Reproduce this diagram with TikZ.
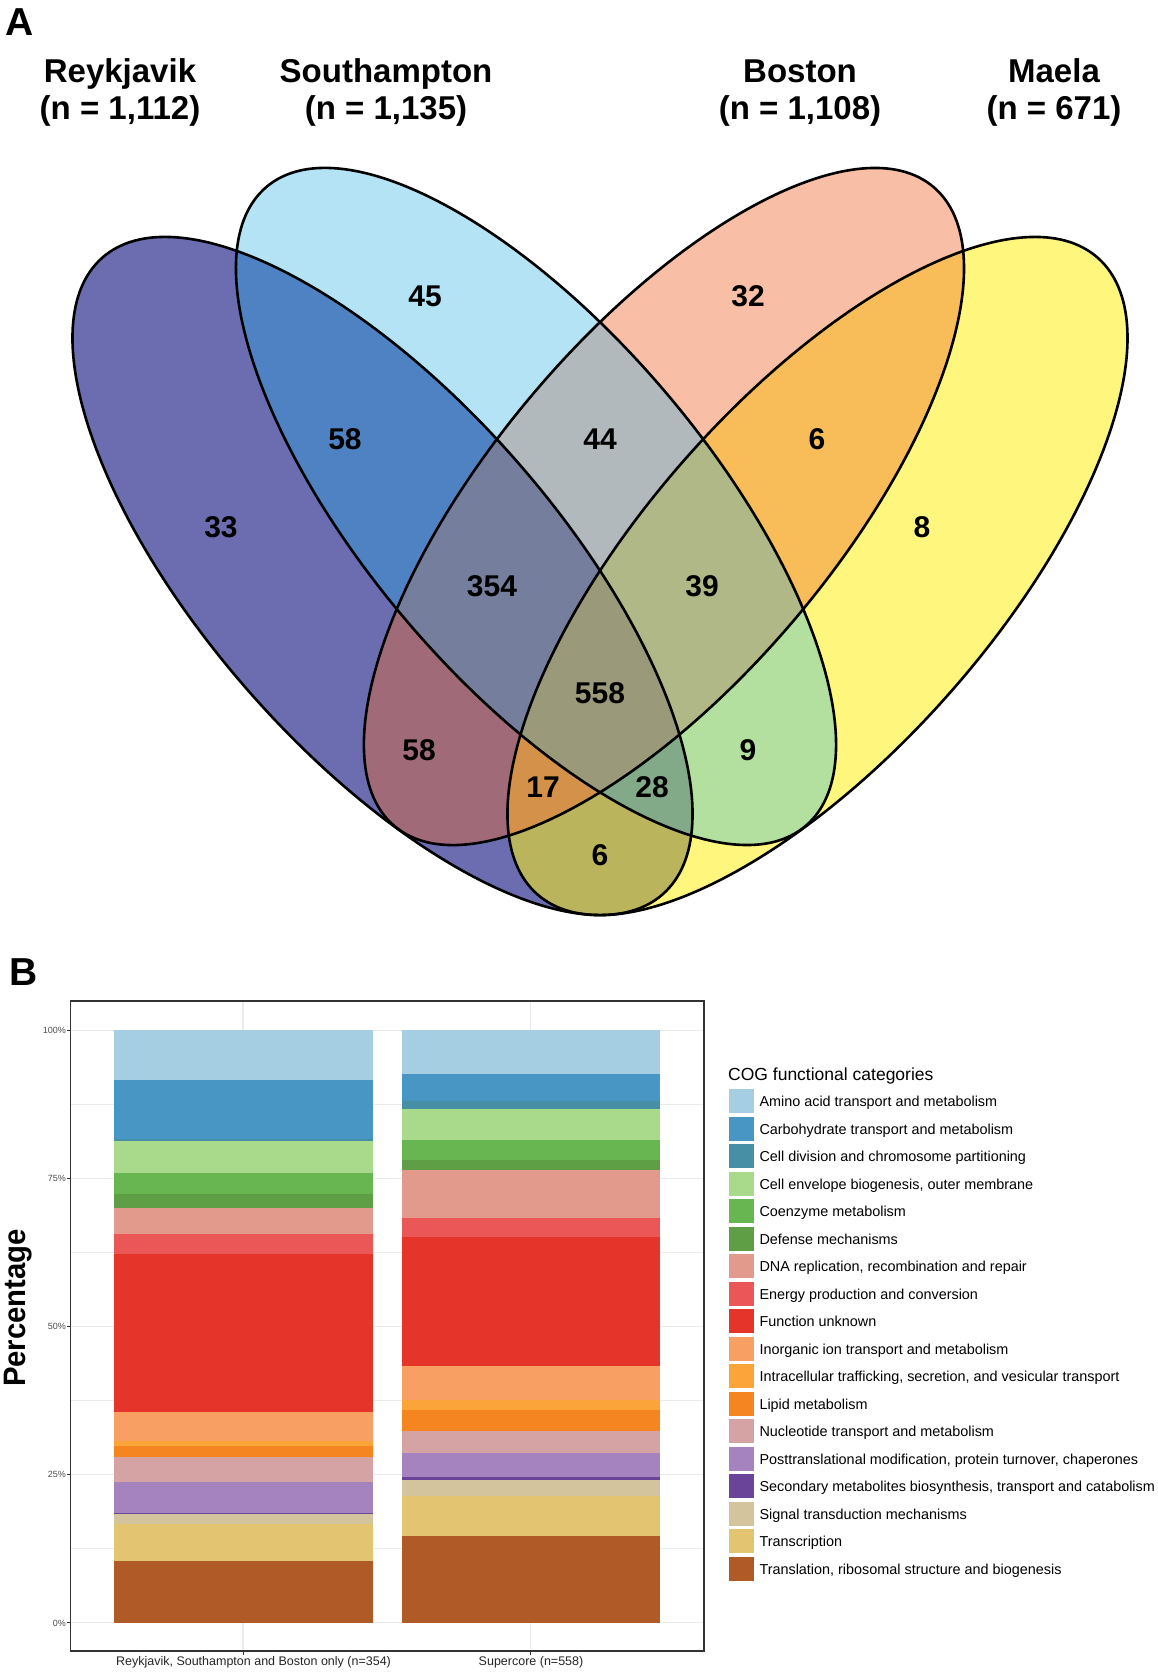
\documentclass[tikz,border=0pt]{standalone}
\usepackage{fontspec}
\setmainfont{Liberation Sans}
% Venn region colours
\definecolor{vR}{HTML}{6B6DB0}
\definecolor{vS}{HTML}{B3E3F5}
\definecolor{vB}{HTML}{F9BFA6}
\definecolor{vM}{HTML}{FFF67E}
\definecolor{vRS}{HTML}{4F82C2}
\definecolor{vRB}{HTML}{A06A78}
\definecolor{vRM}{HTML}{BAB45C}
\definecolor{vSB}{HTML}{B2B9BC}
\definecolor{vSM}{HTML}{B3E09F}
\definecolor{vBM}{HTML}{F8BC58}
\definecolor{vRSB}{HTML}{757E9C}
\definecolor{vRSM}{HTML}{83AA88}
\definecolor{vRBM}{HTML}{D4914A}
\definecolor{vSBM}{HTML}{B1B887}
\definecolor{vAll}{HTML}{9A9A7A}
% COG colours
\definecolor{cg1}{HTML}{A6CEE3}
\definecolor{cg2}{HTML}{4896C4}
\definecolor{cg3}{HTML}{468FA4}
\definecolor{cg4}{HTML}{A9D98B}
\definecolor{cg5}{HTML}{67B651}
\definecolor{cg6}{HTML}{5E9E44}
\definecolor{cg7}{HTML}{E29A8C}
\definecolor{cg8}{HTML}{EB5656}
\definecolor{cg9}{HTML}{E5352A}
\definecolor{cg10}{HTML}{F8A064}
\definecolor{cg11}{HTML}{FBA43A}
\definecolor{cg12}{HTML}{F58520}
\definecolor{cg13}{HTML}{D5A3A3}
\definecolor{cg14}{HTML}{A483BE}
\definecolor{cg15}{HTML}{6A4498}
\definecolor{cg16}{HTML}{D3C49E}
\definecolor{cg17}{HTML}{E2C471}
\definecolor{cg18}{HTML}{B05A28}
\definecolor{gridc}{HTML}{EBEBEB}
\definecolor{borderc}{HTML}{333333}
\definecolor{ticktext}{HTML}{4D4D4D}
% ellipse helpers: centre, angle, a, b, options
\newcommand\VennE[5]{\path[#5,rotate around={#2:(#1)}] (#1) ellipse [x radius=#3pt, y radius=#4pt];}
\newcommand\VR[1]{\VennE{cR}{-48.64}{424.07}{176.58}{#1}}
\newcommand\VS[1]{\VennE{cS}{-49.88}{418.05}{172.68}{#1}}
\newcommand\VB[1]{\VennE{cB}{49.88}{418.05}{172.68}{#1}}
\newcommand\VM[1]{\VennE{cM}{48.64}{424.07}{176.58}{#1}}
\newcommand\Region[2]{\begin{scope}#1\fill[#2] (0,140) rectangle (1158,940);\end{scope}}
\begin{document}
\begin{tikzpicture}[x=1pt,y=-1pt,
  panellab/.style={font=\fontsize{39}{44}\selectfont\bfseries, anchor=base west, inner sep=0pt},
  setlab/.style={font=\fontsize{33}{38}\selectfont\bfseries, anchor=base, inner sep=0pt},
  vnum/.style={font=\fontsize{30}{34}\selectfont\bfseries, inner sep=0pt},
  outline/.style={draw=black, line width=2.6pt},
  ticklab/.style={font=\fontsize{9}{10}\selectfont, text=ticktext, anchor=east, inner sep=0pt},
  xlab/.style={font=\fontsize{12.5}{14}\selectfont, text=black!85, anchor=base, inner sep=0pt},
  legtext/.style={font=\fontsize{14.4}{17}\selectfont, anchor=base west, inner sep=0pt},
  legtitle/.style={font=\fontsize{17.5}{20}\selectfont, anchor=base west, inner sep=0pt},
  gridmajor/.style={draw=gridc, line width=1.1pt},
  gridminor/.style={draw=gridc, line width=0.6pt},
  tickmark/.style={draw=borderc, line width=1pt}]
\fill[white] (0,0) rectangle (1158,1676);
\useasboundingbox (0,0) rectangle (1158,1676);

% ---------------- Panel A : Venn diagram ----------------
\node[panellab] (pa) at (5,35) {A};
\node[setlab] (l1a) at (120,82) {Reykjavik};
\node[setlab] (l1b) at (120,119) {(n = 1,112)};
\node[setlab] (l2a) at (386,82) {Southampton};
\node[setlab] (l2b) at (386,119) {(n = 1,135)};
\node[setlab] (l3a) at (800,82) {Boston};
\node[setlab] (l3b) at (800,119) {(n = 1,108)};
\node[setlab] (l4a) at (1054,82) {Maela};
\node[setlab] (l4b) at (1054,119) {(n = 671)};

\coordinate (cR) at (382.5,576);
\coordinate (cS) at (536,506.5);
\coordinate (cB) at (664,506.5);
\coordinate (cM) at (817.5,576);

% single sets
\VR{fill=vR}
\VS{fill=vS}
\VB{fill=vB}
\VM{fill=vM}
% pairs
\Region{\VR{clip}\VS{clip}}{vRS}
\Region{\VR{clip}\VB{clip}}{vRB}
\Region{\VR{clip}\VM{clip}}{vRM}
\Region{\VS{clip}\VB{clip}}{vSB}
\Region{\VS{clip}\VM{clip}}{vSM}
\Region{\VB{clip}\VM{clip}}{vBM}
% triples
\Region{\VR{clip}\VS{clip}\VB{clip}}{vRSB}
\Region{\VR{clip}\VS{clip}\VM{clip}}{vRSM}
\Region{\VR{clip}\VB{clip}\VM{clip}}{vRBM}
\Region{\VS{clip}\VB{clip}\VM{clip}}{vSBM}
% all four
\Region{\VR{clip}\VS{clip}\VB{clip}\VM{clip}}{vAll}
% outlines
\VR{outline}
\VS{outline}
\VB{outline}
\VM{outline}

\node[vnum] (n33) at (221,527) {33};
\node[vnum] (n45) at (425,296) {45};
\node[vnum] (n58a) at (345,439) {58};
\node[vnum] (n44) at (600,439) {44};
\node[vnum] (n32) at (748,296) {32};
\node[vnum] (n6a) at (817,439) {6};
\node[vnum] (n8) at (922,527) {8};
\node[vnum] (n354) at (492,586) {354};
\node[vnum] (n39) at (702,586) {39};
\node[vnum] (n558) at (600,693) {558};
\node[vnum] (n58b) at (419,750) {58};
\node[vnum] (n17) at (543,787) {17};
\node[vnum] (n28) at (652,787) {28};
\node[vnum] (n9) at (748,750) {9};
\node[vnum] (n6b) at (600,855) {6};

% ---------------- Panel B : stacked bars ----------------
\node[panellab] (pb) at (9,985) {B};

\begin{scope}[shift={(0,1000)}, yscale=0.42088]
  % grid
  \foreach \gy in {248,600,951,1303}
    \draw[gridminor] (70.5,\gy) -- (704,\gy);
  \foreach \gy in {72,424,775,1127,1480}
    \draw[gridmajor] (70.5,\gy) -- (704,\gy);
  \foreach \gx in {243,530.5}
    \draw[gridmajor] (\gx,2.4) -- (\gx,1547);
  % bar 1
  \foreach \ya/\yb/\cc in {72/190/cg1,190/330/cg2,330/335/cg3,335/410/cg4,410/462/cg5,462/493/cg6,493/557/cg7,557/604/cg8,604/978/cg9,978/1048/cg10,1048/1060/cg11,1060/1086/cg12,1086/1145/cg13,1145/1218/cg14,1218/1222/cg15,1222/1245/cg16,1245/1333/cg17,1333/1480/cg18}
    \fill[\cc] (113.9,\ya) rectangle (373.1,\yb);
  % bar 2
  \foreach \ya/\yb/\cc in {72/175/cg1,175/240/cg2,240/260/cg3,260/333/cg4,333/380/cg5,380/403/cg6,403/517/cg7,517/563/cg8,563/870/cg9,870/950/cg10,950/973/cg11,973/1023/cg12,1023/1077/cg13,1077/1133/cg14,1133/1140/cg15,1140/1178/cg16,1178/1273/cg17,1273/1480/cg18}
    \fill[\cc] (401.8,\ya) rectangle (660.2,\yb);
  % y ticks
  \foreach \gy in {72,424,775,1127,1480}
    \draw[tickmark] (67,\gy) -- (70.5,\gy);
  \node[ticklab] (t100) at (66,72) {100\%};
  \node[ticklab] (t75) at (66,424) {75\%};
  \node[ticklab] (t50) at (66,775) {50\%};
  \node[ticklab] (t25) at (66,1127) {25\%};
  \node[ticklab] (t0) at (66,1480) {0\%};
\end{scope}
% panel border
\draw[draw=borderc, line width=1.2pt] (70.5,1001) rectangle (704,1651);
% x ticks
\draw[tickmark] (243,1651) -- (243,1655);
\draw[tickmark] (530.5,1651) -- (530.5,1655);
\node[xlab] (x1) at (253.5,1665.5) {Reykjavik, Southampton and Boston only (n=354)};
\node[xlab] (x2) at (531,1665.5) {Supercore (n=558)};
% y axis title
\node[font=\fontsize{31}{34}\selectfont\bfseries, rotate=90, anchor=base, inner sep=0pt] (ytitle) at (25.7,1308) {\scalebox{0.945}[1]{Percentage}};

% legend
\node[legtitle] (legt) at (728,1080) {COG functional categories};
\foreach \cc/\legtxt [count=\i from 0] in {
  cg1/{Amino acid transport and metabolism},
  cg2/{Carbohydrate transport and metabolism},
  cg3/{Cell division and chromosome partitioning},
  cg4/{Cell envelope biogenesis, outer membrane},
  cg5/{Coenzyme metabolism},
  cg6/{Defense mechanisms},
  cg7/{DNA replication, recombination and repair},
  cg8/{Energy production and conversion},
  cg9/{Function unknown},
  cg10/{Inorganic ion transport and metabolism},
  cg11/{Intracellular trafficking, secretion, and vesicular transport},
  cg12/{Lipid metabolism},
  cg13/{Nucleotide transport and metabolism},
  cg14/{Posttranslational modification, protein turnover, chaperones},
  cg15/{Secondary metabolites biosynthesis, transport and catabolism},
  cg16/{Signal transduction mechanisms},
  cg17/{Transcription},
  cg18/{Translation, ribosomal structure and biogenesis}}
{
  \fill[\cc] (729.3,{1089.3+27.5*\i}) rectangle ++(24.7,24);
  \node[legtext] (leg\i) at (759.3,{1106.6+27.5*\i}) {\legtxt};
}
\end{tikzpicture}
\end{document}
